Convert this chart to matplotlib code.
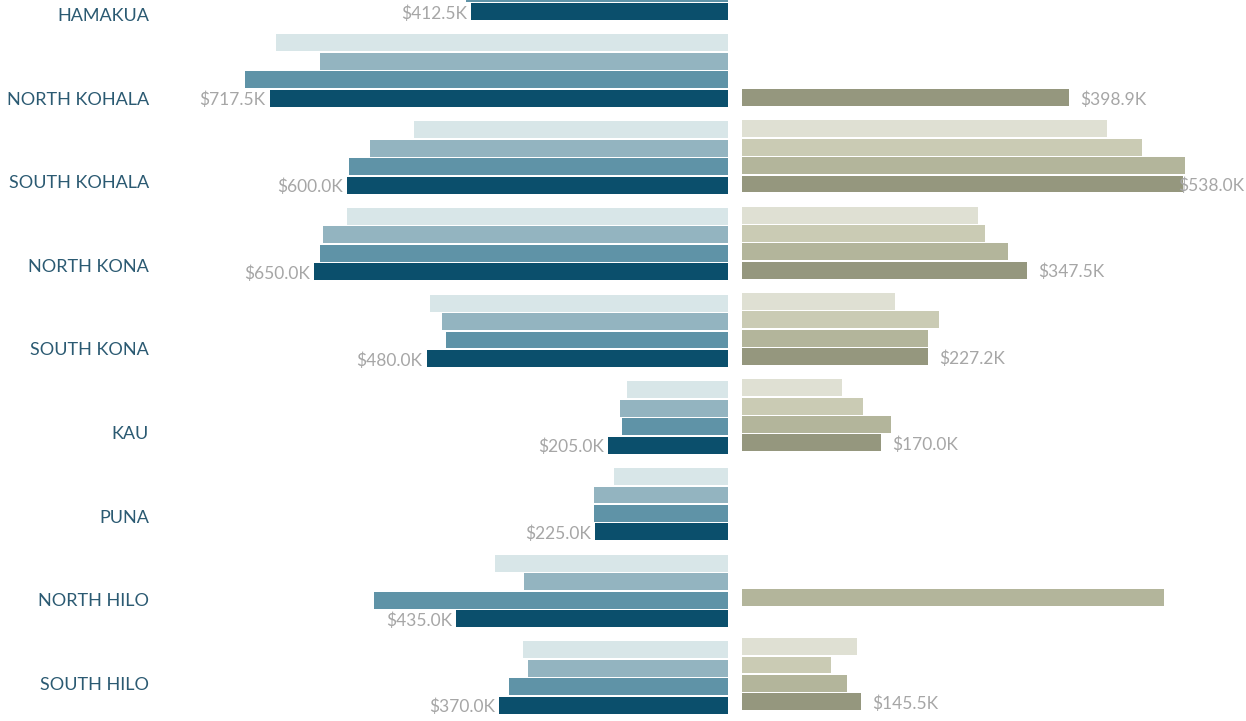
import numpy as np
import matplotlib
matplotlib.use("Agg")
import matplotlib.pyplot as plt

# median prices in $K, four periods per district (lightest -> darkest)
districts = ["HAMAKUA", "NORTH KOHALA", "SOUTH KOHALA", "NORTH KONA", "SOUTH KONA",
             "KAU", "PUNA", "NORTH HILO", "SOUTH HILO"]
nan = np.nan
left_1 = [nan, 709, 500, 601, 475, 177, 197, 376, 334]
left_2 = [nan, 641, 566, 637, 457, 187, 226, 332, 326]
left_3 = [420, 755, 597, 641, 451, 184, 227, 560, 355]
left_4 = [412.5, 717.5, 600, 650, 480, 205, 225, 435, 370]
right_1 = [nan, nan, 446, 288, 187, 122, nan, nan, 140]
right_2 = [nan, nan, 488, 297, 240, 148, nan, nan, 109]
right_3 = [nan, nan, 541, 325, 227, 182, nan, 515, 129]
right_4 = [nan, 398.9, 538, 347.5, 227.2, 170, nan, nan, 145.5]

left_colors = ["#d8e6e8", "#93b4c0", "#5f93a7", "#0b4f6c"]
right_colors = ["#dfe0d3", "#cacbb4", "#b3b59b", "#95977e"]
label_color = "#2b5a72"
value_color = "#a6a6a6"
font = ["Lato", "DejaVu Sans"]

W, H = 1246, 721
GROUP = 4.70
BAR_H = 0.92

fig = plt.figure(figsize=(W / 100, H / 100), dpi=100)
ax_l = fig.add_axes([160 / W, 0, (728.3 - 160) / W, 1])
ax_r = fig.add_axes([741.7 / W, 0, (W - 741.7) / W, 1])

n = len(districts)
base = np.arange(n) * GROUP

for j, (vals, col) in enumerate(zip([left_1, left_2, left_3, left_4], left_colors)):
    ax_l.barh(base + j, vals, height=BAR_H, color=col, linewidth=0)
for j, (vals, col) in enumerate(zip([right_1, right_2, right_3, right_4], right_colors)):
    ax_r.barh(base + j, vals, height=BAR_H, color=col, linewidth=0)

ax_l.set_xlim(884, 23.2)
ax_l.set_ylim(41.45, 2.371)
ax_r.set_xlim(0, 615)
ax_r.set_ylim(41.65, 2.379)

for i, v in enumerate(left_4):
    if np.isnan(v):
        continue
    ax_l.annotate(f"${v:.1f}K", (v, base[i] + 3.1), xytext=(-3, 0), textcoords="offset points",
                  ha="right", va="center", fontsize=12.5, color=value_color, family=font)

rmax = np.nanmax(right_4)
for i, v in enumerate(right_4):
    if np.isnan(v):
        continue
    if v == rmax:
        ax_r.annotate(f"${v:.1f}K", (1, base[i] + 3.1), xycoords=("axes fraction", "data"),
                      xytext=(-1, 0), textcoords="offset points", ha="right", va="center",
                      fontsize=12.5, color=value_color, family=font)
    else:
        ax_r.annotate(f"${v:.1f}K", (v, base[i] + 3.1), xytext=(8, 0), textcoords="offset points",
                      ha="left", va="center", fontsize=12.5, color=value_color, family=font)

for i, name in enumerate(districts):
    fig.text(149 / W, 1 - (16 + 83.6 * i) / H, name, ha="right", va="center",
             fontsize=13, color=label_color, family=font)

for ax in (ax_l, ax_r):
    ax.axis("off")

fig.savefig("out.png", dpi=100, facecolor="white")
